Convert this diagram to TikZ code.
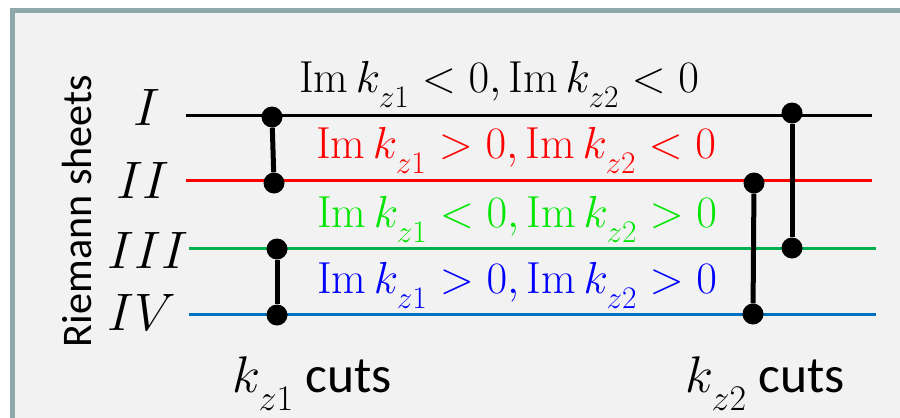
\RequirePackage{fix-cm}
\documentclass[tikz,border=0pt]{standalone}
\usepackage{fontspec}
\setsansfont{Carlito}
\usepackage{amsmath}
\usetikzlibrary{positioning}

\definecolor{framecol}{RGB}{143,168,170}
\definecolor{panelcol}{RGB}{242,242,242}
\definecolor{linegreen}{RGB}{0,176,80}
\definecolor{lineblue}{RGB}{0,112,192}
\definecolor{textgreen}{RGB}{0,230,0}

\newcommand{\kzsub}[1]{k_{\lower.2em\hbox{$\scriptstyle z#1$}}}
\newcommand{\Imk}[1]{\mathrm{Im}\,\kzsub{#1}}

\begin{document}
\begin{tikzpicture}[
    x=0.03cm, y=-0.03cm,
    sheet/.style={line width=3*0.03cm},
    cut/.style={line width=5*0.03cm, black},
    dot/.style={circle, fill=black, inner sep=0pt, minimum size=21*0.03cm},
    numeral/.style={font=\fontsize{45}{50}\selectfont, inner sep=0pt},
    cond/.style={font=\fontsize{38.3}{42}\selectfont, inner sep=0pt, anchor=base},
    cutlabel/.style={font=\fontsize{44}{48}\selectfont\sffamily, inner sep=0pt, anchor=base},
  ]
  \useasboundingbox (0,0) rectangle (900,417);
  \clip (0,0) rectangle (900,417);
  \fill[white] (0,0) rectangle (900,417);
  \draw[framecol, fill=panelcol, line width=5*0.03cm] (12,10) rectangle (930,450);

  % sheet lines
  \coordinate (sI-w)   at (186,115); \coordinate (sI-e)   at (872,115);
  \coordinate (sII-w)  at (186,180); \coordinate (sII-e)  at (872,180);
  \coordinate (sIII-w) at (189,248); \coordinate (sIII-e) at (876,248);
  \coordinate (sIV-w)  at (189,314); \coordinate (sIV-e)  at (876,314);
  \draw[sheet, black]      (sI-w) -- (sI-e);
  \draw[sheet, red]        (sII-w) -- (sII-e);
  \draw[sheet, linegreen]  (sIII-w) -- (sIII-e);
  \draw[sheet, lineblue]   (sIV-w) -- (sIV-e);

  % sheet numbers
  \node[numeral] (numI)   at (147,107) {$I$};
  \node[numeral] (numII)  at (143,180) {$II$};
  \node[numeral] (numIII) at (148,250) {$III$};
  \node[numeral] (numIV)  at (142,312) {$IV$};
  \node[font=\fontsize{36}{40}\selectfont\sffamily, rotate=90, inner sep=0pt] (title) at (77,211) {Riemann sheets};

  % conditions
  \node[cond, black]     (condI)   at (499,92)  {$\Imk1<0,\Imk2<0$};
  \node[cond, red]       (condII)  at (516,158) {$\Imk1>0,\Imk2<0$};
  \node[cond, textgreen] (condIII) at (517,227) {$\Imk1<0,\Imk2>0$};
  \node[cond, blue]      (condIV)  at (517,293) {$\Imk1>0,\Imk2>0$};

  % cuts
  \node[dot] (a1) at (272,117) {};
  \node[dot] (a2) at (274,183) {};
  \node[dot] (b1) at (277,249) {};
  \node[dot] (b2) at (277,315) {};
  \node[dot] (c1) at (754,183) {};
  \node[dot] (c2) at (753,314) {};
  \node[dot] (d1) at (792,113) {};
  \node[dot] (d2) at (792,248) {};
  \draw[cut] (a1) -- (a2);
  \draw[cut] (b1) -- (b2);
  \draw[cut] (c1) -- (c2);
  \draw[cut] (d1) -- (d2);

  \node[cutlabel] (cutz1) at (312,392) {$\kzsub1$ cuts};
  \node[cutlabel] (cutz2) at (765,392) {$\kzsub2$ cuts};
\end{tikzpicture}
\end{document}
